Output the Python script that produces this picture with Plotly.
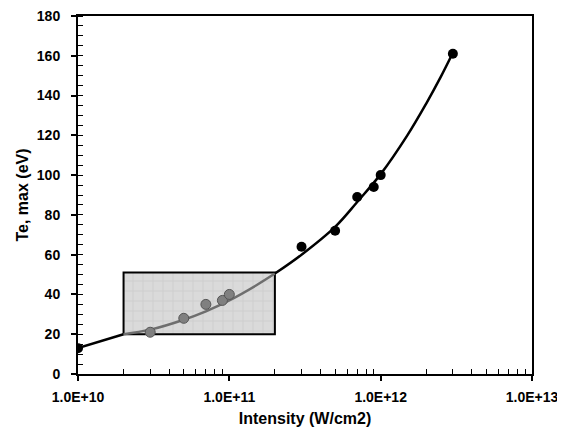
import plotly.graph_objects as go

# ---- data ----
black_x = [1e10, 3e11, 5e11, 7e11, 9e11, 1e12, 3e12]
black_y = [13, 64, 72, 89, 94, 100, 161]
gray_x = [3e10, 5e10, 7e10, 9e10, 1e11]
gray_y = [21, 28, 35, 37, 40]

# fitted curve
fit_low_x = [1e10, 2e10]
fit_low_y = [13, 20]
fit_mid_x = [2e10, 3e10, 5e10, 7e10, 1e11, 1.5e11, 2e11]
fit_mid_y = [20, 22.3, 27.3, 31.5, 37, 44.5, 50.5]
fit_high_x = [2e11, 3e11, 5e11, 7e11, 1e12, 1.5e12, 2e12, 2.5e12, 3e12]
fit_high_y = [50.5, 60, 74, 86.5, 100.5, 120, 136, 149.5, 161.5]

# highlighted region
box_x = [2e10, 2e11, 2e11, 2e10, 2e10]
box_y = [20, 20, 51, 51, 20]

x_tickvals = [1e10, 1e11, 1e12, 1e13]
x_ticktext = ["1.0E+10", "1.0E+11", "1.0E+12", "1.0E+13"]
x_minor = [m * 10 ** e for e in (10, 11, 12) for m in range(2, 10)]
y_tickvals = [0, 20, 40, 60, 80, 100, 120, 140, 160, 180]

FONT = "Liberation Sans, Arial, sans-serif"

fig = go.Figure()

fig.add_trace(go.Scatter(
    x=box_x, y=box_y, mode="lines", fill="toself",
    fillcolor="#d6d6d6",
    fillpattern=dict(shape="+", fgcolor="#bcbcbc", bgcolor="#dadada", size=10, solidity=0.15),
    line=dict(color="black", width=2), hoverinfo="skip", showlegend=False))

fig.add_trace(go.Scatter(x=fit_low_x, y=fit_low_y, mode="lines",
                         line=dict(color="black", width=2.5), showlegend=False))
fig.add_trace(go.Scatter(x=fit_mid_x, y=fit_mid_y, mode="lines", line_shape="spline",
                         line=dict(color="#6e6e6e", width=2.5), showlegend=False))
fig.add_trace(go.Scatter(x=fit_high_x, y=fit_high_y, mode="lines", line_shape="spline",
                         line=dict(color="black", width=2.5), showlegend=False))

fig.add_trace(go.Scatter(x=gray_x, y=gray_y, mode="markers",
                         marker=dict(size=10, color="#808080", line=dict(color="#555555", width=1)),
                         showlegend=False))
fig.add_trace(go.Scatter(x=black_x, y=black_y, mode="markers",
                         marker=dict(size=10, color="black"), showlegend=False))

# page body has an 8px default margin, so the figure is sized to fit the window
fig.update_layout(
    width=557, height=424,
    margin=dict(l=70, r=33, t=8, b=58),
    paper_bgcolor="white", plot_bgcolor="white",
    font=dict(family=FONT, color="black", size=14),
    xaxis=dict(
        type="log", range=[10, 13], automargin=False,
        tickvals=x_tickvals, ticktext=x_ticktext,
        ticks="outside", ticklen=5, tickwidth=1.5, tickcolor="black",
        minor=dict(tickvals=x_minor, ticks="inside", ticklen=5, tickwidth=1, tickcolor="black"),
        showline=True, linecolor="black", linewidth=2, mirror=True,
        showgrid=False, zeroline=False,
        tickfont=dict(family=FONT, size=14, weight="bold"),
        ticklabelstandoff=4, ticklabeloverflow="allow",
        title=dict(text="<b>Intensity (W/cm2)</b>", font=dict(family=FONT, size=16), standoff=9),
    ),
    yaxis=dict(
        range=[0, 180], automargin=False,
        tickvals=y_tickvals,
        ticks="outside", ticklen=5, tickwidth=1.5, tickcolor="black",
        minor=dict(dtick=5, ticks="inside", ticklen=5, tickwidth=1, tickcolor="black"),
        showline=True, linecolor="black", linewidth=2, mirror=True,
        showgrid=False, zeroline=False,
        tickfont=dict(family=FONT, size=14, weight="bold"),
        ticklabelstandoff=8, ticklabeloverflow="allow",
        title=dict(text="<b>Te, max (eV)</b>", font=dict(family=FONT, size=16), standoff=4),
    ),
)

fig.write_html("out.html")
